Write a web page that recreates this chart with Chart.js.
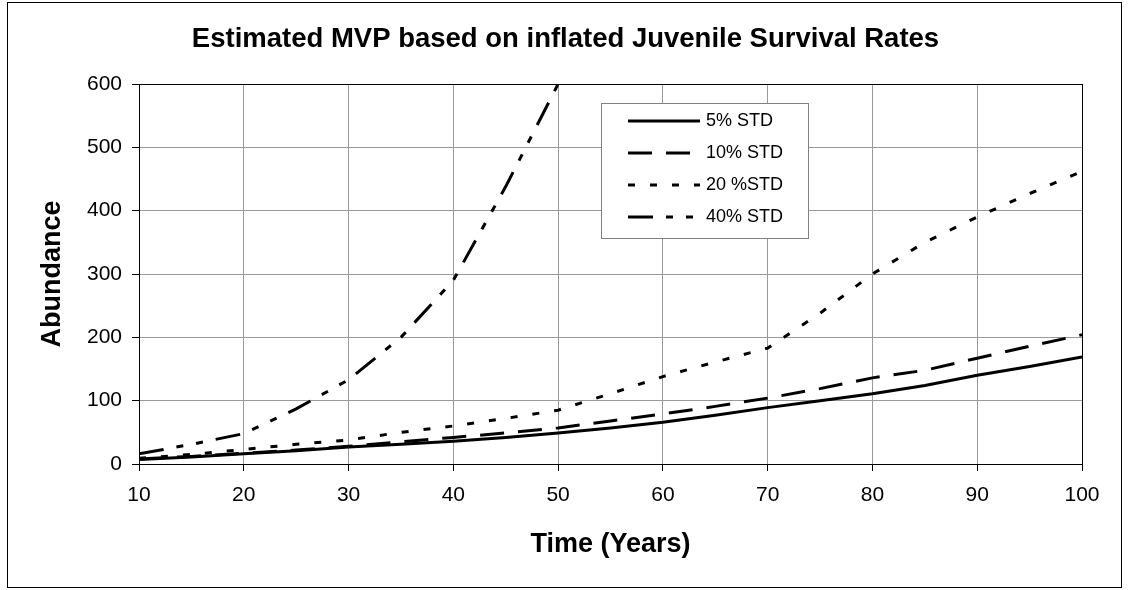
<!DOCTYPE html>
<html>
<head>
<meta charset="utf-8">
<script src="https://cdn.jsdelivr.net/npm/chart.js@4.4.1/dist/chart.umd.min.js"></script>
<style>
  html, body { margin: 0; padding: 0; background: #fff; }
  #wrap { width: 1131px; height: 590px; position: relative; }
</style>
</head>
<body>
<div id="wrap"><canvas id="mvp"></canvas></div>
<script>
// years run every 5 from 10 to 100
const years = [10, 15, 20, 25, 30, 35, 40, 45, 50, 55, 60, 65, 70, 75, 80, 85, 90, 95, 100];
const std5 = [7, 11, 16, 21, 27, 31, 36, 42, 49, 57, 66, 77, 89, 100, 111, 124, 140, 154, 169];
const std10 = [8, 12, 17, 22, 28, 35, 42, 49, 57, 68, 79, 91, 104, 119, 136, 148, 167, 186, 204];
const std20 = [9, 15, 23, 31, 38, 50, 60, 72, 85, 111, 138, 161, 183, 238, 300, 350, 390, 427, 462];
const std40 = [16, 31, 48, 87, 133, 200, 290, 438, 600];
const seriesNames = ['5% STD', '10% STD', '20 %STD', '40% STD'];
const yTicks = [0, 100, 200, 300, 400, 500, 600];

const FONT = '"Liberation Sans", Arial, sans-serif';

function pairs(vals) {
  return vals.map((v, i) => ({ x: years[i], y: v }));
}

// white page with the thin outer frame, plus the plot-area box
const frame = {
  id: 'frame',
  beforeDraw(chart) {
    const ctx = chart.ctx;
    ctx.save();
    ctx.fillStyle = '#fff';
    ctx.fillRect(0, 0, chart.width, chart.height);
    ctx.strokeStyle = '#000';
    ctx.lineWidth = 1;
    ctx.strokeRect(7.5, 2.5, 1114, 585);
    ctx.restore();
  },
  afterDraw(chart) {
    const { ctx, chartArea: a } = chart;
    ctx.save();
    ctx.strokeStyle = '#000';
    ctx.lineWidth = 1;
    ctx.strokeRect(Math.round(a.left) + 0.5, Math.round(a.top) + 0.5,
      Math.round(a.right - a.left), Math.round(a.bottom - a.top));
    ctx.restore();
  }
};

// boxed key inside the plot, line samples use each dataset's own dash
const keyBox = {
  id: 'keyBox',
  afterDatasetsDraw(chart) {
    const { ctx, chartArea } = chart;
    const x = Math.round(chartArea.left) + 462;
    const y = Math.round(chartArea.top) + 19;
    ctx.save();
    ctx.fillStyle = '#fff';
    ctx.fillRect(x, y, 207, 135);
    ctx.strokeStyle = '#808080';
    ctx.lineWidth = 1;
    ctx.strokeRect(x + 0.5, y + 0.5, 207, 135);
    chart.data.datasets.forEach((ds, i) => {
      const rowY = y + 18 + i * 32;
      ctx.setLineDash(ds.borderDash || []);
      ctx.lineWidth = ds.borderWidth;
      ctx.strokeStyle = ds.borderColor;
      ctx.beginPath();
      ctx.moveTo(x + 27, rowY);
      ctx.lineTo(x + 99, rowY);
      ctx.stroke();
      ctx.setLineDash([]);
      ctx.fillStyle = '#000';
      ctx.font = '18px ' + FONT;
      ctx.textBaseline = 'middle';
      ctx.textAlign = 'left';
      ctx.fillText(ds.label, x + 105, rowY);
    });
    ctx.restore();
  }
};

const lineStyle = {
  borderColor: '#000',
  borderWidth: 3,
  pointRadius: 0,
  tension: 0,
  fill: false
};

new Chart(document.getElementById('mvp'), {
  type: 'line',
  data: {
    datasets: [
      { ...lineStyle, label: seriesNames[0], data: pairs(std5), borderDash: [] },
      { ...lineStyle, label: seriesNames[1], data: pairs(std10), borderDash: [24, 14] },
      { ...lineStyle, label: seriesNames[2], data: pairs(std20), borderDash: [7, 15] },
      { ...lineStyle, label: seriesNames[3], data: pairs(std40), borderDash: [25, 13, 7, 13, 7, 13] }
    ]
  },
  options: {
    responsive: true,
    maintainAspectRatio: false,
    animation: false,
    layout: { padding: 0 },
    plugins: {
      legend: { display: false },
      tooltip: { enabled: false },
      title: {
        display: true,
        text: 'Estimated MVP based on inflated Juvenile Survival Rates',
        color: '#000',
        font: { family: FONT, size: 27.5, weight: 'bold', lineHeight: 1.2 },
        padding: { top: 23, bottom: 28 }
      }
    },
    scales: {
      x: {
        type: 'linear',
        min: 10,
        max: 100,
        afterFit(scale) { scale.height = 126; },
        ticks: {
          stepSize: 10,
          color: '#000',
          padding: 12,
          font: { family: FONT, size: 21 }
        },
        grid: { color: '#999', tickColor: '#000', tickLength: 7, lineWidth: 1 },
        border: { color: '#000' },
        title: {
          display: true,
          text: 'Time (Years)',
          color: '#000',
          font: { family: FONT, size: 27, weight: 'bold', lineHeight: 1.2 },
          padding: { top: 0, bottom: 29 }
        }
      },
      y: {
        min: 0,
        max: 600,
        afterFit(scale) { scale.width = 139; },
        afterBuildTicks(scale) { scale.ticks = yTicks.map(v => ({ value: v })); },
        ticks: {
          color: '#000',
          padding: 10,
          font: { family: FONT, size: 21 }
        },
        grid: { color: '#999', tickColor: '#000', tickLength: 7, lineWidth: 1 },
        border: { color: '#000' },
        title: {
          display: true,
          text: 'Abundance',
          color: '#000',
          font: { family: FONT, size: 27, weight: 'bold', lineHeight: 1.2 },
          padding: { top: 36, bottom: 0 }
        }
      },
      // empty right-hand margin so the title stays centred on the page
      margin: {
        type: 'linear',
        position: 'right',
        min: 0,
        max: 600,
        afterFit(scale) { scale.width = 49; },
        ticks: { display: false },
        grid: { display: false },
        border: { display: false }
      }
    }
  },
  plugins: [frame, keyBox]
});
</script>
</body>
</html>
